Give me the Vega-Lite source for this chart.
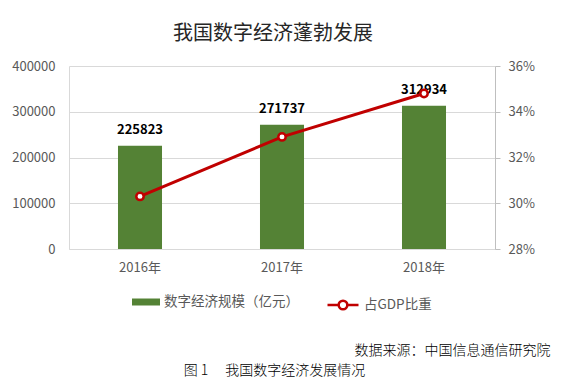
{
  "$schema": "https://vega.github.io/schema/vega-lite/v6.json",
  "background": "white",
  "padding": {"left": 11, "top": 24, "right": 5, "bottom": 3},
  "config": {
    "font": "Noto Sans CJK SC",
    "view": {"stroke": null},
    "axis": {"labelFont": "Noto Sans CJK SC", "labelFontSize": 13, "labelColor": "#595959", "gridColor": "#d9d9d9", "domainColor": "#d9d9d9", "tickColor": "#bfbfbf"},
    "legend": {"offset": 14, "layout": {"bottom": {"anchor": "middle", "direction": "horizontal", "margin": 27}}}
  },
  "spacing": 28,
  "resolve": {"scale": {"fill": "independent", "stroke": "independent"}, "legend": {"fill": "independent", "stroke": "independent"}},
  "vconcat": [
    {
      "width": 426,
      "height": 183,
      "title": {"text": "我国数字经济蓬勃发展", "fontSize": 20, "fontWeight": "normal", "color": "#262626", "anchor": "middle", "frame": "bounds", "offset": 16},
      "data": {"values": [
        {"year": "2016年", "scale": 225823, "share": 0.303},
        {"year": "2017年", "scale": 271737, "share": 0.329},
        {"year": "2018年", "scale": 312934, "share": 0.348}
      ]},
      "layer": [
        {
          "layer": [
            {
              "mark": {"type": "bar", "width": {"band": 0.31}},
              "encoding": {
                "x": {"field": "year", "type": "nominal", "sort": null, "scale": {"paddingInner": 0, "paddingOuter": 0}, "axis": {"title": null, "labelAngle": 0, "ticks": false, "labelPadding": 12, "domainColor": "#d9d9d9"}},
                "y": {"field": "scale", "type": "quantitative", "scale": {"domain": [0, 400000]}, "axis": {"title": null, "values": [0, 100000, 200000, 300000, 400000], "format": "d", "ticks": false, "labelPadding": 14, "grid": true, "domain": true}},
                "fill": {"datum": "数字经济规模（亿元）", "scale": {"range": ["#548235"]}, "legend": {"title": null, "orient": "bottom", "symbolType": "M-1,-0.25H1V0.25H-1Z", "symbolSize": 784, "symbolStrokeWidth": 0, "labelFontSize": 13.5, "labelColor": "#595959", "labelOffset": 4}}
              }
            },
            {
              "mark": {"type": "text", "baseline": "bottom", "dy": -9, "fontSize": 13, "fontWeight": "bold", "color": "#000000"},
              "encoding": {
                "x": {"field": "year", "type": "nominal", "sort": null},
                "y": {"field": "scale", "type": "quantitative"},
                "text": {"field": "scale", "type": "quantitative", "format": "d"}
              }
            }
          ]
        },
        {
          "layer": [
            {
              "mark": {"type": "line", "strokeWidth": 3},
              "encoding": {
                "x": {"field": "year", "type": "nominal", "sort": null},
                "y": {"field": "share", "type": "quantitative", "scale": {"domain": [0.28, 0.36]}, "axis": {"orient": "right", "title": null, "format": ".0%", "values": [0.28, 0.30, 0.32, 0.34, 0.36], "grid": false, "tickSize": 5, "labelPadding": 8, "domainColor": "#bfbfbf", "tickColor": "#bfbfbf"}},
                "stroke": {"datum": "占GDP比重", "scale": {"range": ["#C00000"]}, "legend": {"title": null, "orient": "bottom", "symbolType": "M-1,0H-0.28M0.28,0H1M-0.28,0A0.28,0.28,0,1,1,0.28,0A0.28,0.28,0,1,1,-0.28,0Z", "symbolSize": 961, "symbolStrokeWidth": 2.5, "labelFontSize": 13.5, "labelColor": "#595959", "labelOffset": 4, "encode": {"symbols": {"update": {"fill": {"value": "white"}}}}}}
              }
            },
            {
              "mark": {"type": "point", "filled": true, "fill": "white", "size": 55, "strokeWidth": 2.5, "opacity": 1},
              "encoding": {
                "x": {"field": "year", "type": "nominal", "sort": null},
                "y": {"field": "share", "type": "quantitative"},
                "stroke": {"datum": "占GDP比重"}
              }
            }
          ]
        }
      ],
      "resolve": {"scale": {"y": "independent"}}
    },
    {
      "width": 481,
      "height": 1,
      "data": {"values": [{"t": 0}]},
      "mark": {"type": "point", "opacity": 0, "size": 0},
      "encoding": {
        "x": {"field": "t", "type": "quantitative", "scale": {"domain": [0, 1]}, "axis": {"orient": "top", "title": "数据来源：中国信息通信研究院", "titleAnchor": "end", "labels": false, "ticks": false, "domain": false, "grid": false, "titlePadding": 0, "titleFont": "Noto Sans CJK SC", "titleFontSize": 14, "titleFontWeight": 300, "titleColor": "#000000"}}
      },
      "title": {"text": "图 1　 我国数字经济发展情况", "orient": "bottom", "anchor": "middle", "frame": "group", "dx": -35, "offset": 6, "fontSize": 14, "fontWeight": 300, "color": "#000000"}
    }
  ]
}
